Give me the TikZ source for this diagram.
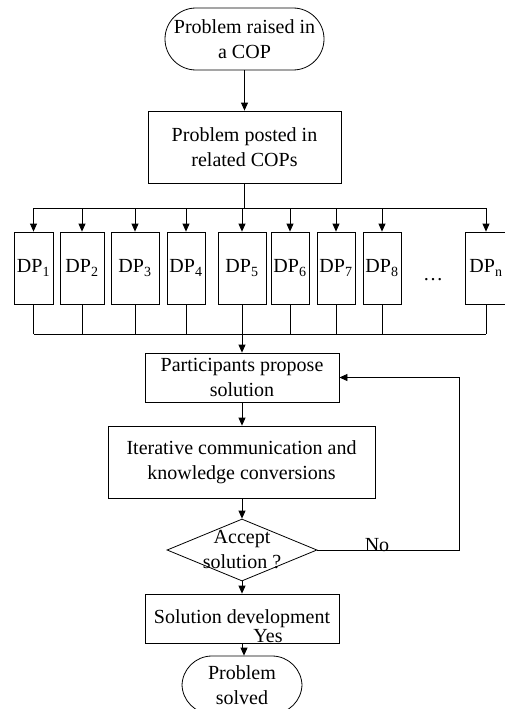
\documentclass[tikz,border=0pt]{standalone}
\usepackage{fontspec}
\setmainfont{Liberation Serif}
\usetikzlibrary{arrows.meta,shapes.geometric}
\begin{document}
\begin{tikzpicture}[x=1pt,y=-1pt,
  every node/.style={font=\fontsize{20}{25}\selectfont, inner sep=0pt, align=center},
  wire/.style={line width=0.8pt},
  arr/.style={line width=0.8pt, -{Triangle[length=8pt,width=7pt]}},
  box/.style={draw, line width=0.8pt, rectangle},
  term/.style={draw, line width=0.8pt, rectangle, rounded corners=#1},
  dpbox/.style={draw, line width=0.8pt, rectangle, minimum height=72pt}
]
\useasboundingbox (0,0) rectangle (504,709);

\node[term=31pt, minimum width=159pt, minimum height=62pt] (start) at (244.5,39) {Problem raised in\\a COP};
\node[box, minimum width=193pt, minimum height=72pt] (posted) at (244.5,147) {Problem posted in\\related COPs};

\node[dpbox, minimum width=39pt] (dp1) at (33.5,268) {DP\textsubscript{1}};
\node[dpbox, minimum width=44pt] (dp2) at (82,268) {DP\textsubscript{2}};
\node[dpbox, minimum width=48pt] (dp3) at (135,268) {DP\textsubscript{3}};
\node[dpbox, minimum width=38pt] (dp4) at (186,268) {DP\textsubscript{4}};
\node[dpbox, minimum width=48pt] (dp5) at (242,268) {DP\textsubscript{5}};
\node[dpbox, minimum width=38pt] (dp6) at (290,268) {DP\textsubscript{6}};
\node[dpbox, minimum width=38pt] (dp7) at (336,268) {DP\textsubscript{7}};
\node[dpbox, minimum width=38pt] (dp8) at (382,268) {DP\textsubscript{8}};
\node[anchor=base] (dots) at (433,280) {…};
\node[dpbox, minimum width=42pt] (dpn) at (486,268) {DP\textsubscript{n}};

\node[box, minimum width=194pt, minimum height=49pt] (part) at (242,377.5) {Participants propose\\solution};
\node[box, minimum width=267pt, minimum height=72pt] (iter) at (241.5,462) {Iterative communication and\\knowledge conversions};
\node[draw, line width=0.8pt, diamond, minimum width=150pt, minimum height=62pt] (dec) at (242,550) {};
\node (dectext) at (242,550) {Accept\\solution ?};
\node[box, minimum width=194pt, minimum height=49pt] (sol) at (242,618.5) {Solution development};
\node[term=30pt, minimum width=120pt, minimum height=58pt] (done) at (242,685) {Problem\\solved};

\node (no) at (377,545) {No};
\node (yes) at (268,636) {Yes};

\coordinate (bus1) at (242,208);
\coordinate (bus2) at (242,334);
\coordinate (back) at (459,550);

\draw[arr] (start.south) -- (posted.north);
\draw[wire] (posted.south) -- (posted.south |- bus1);
\draw[wire] (bus1 -| dp1.north) -- (bus1 -| dpn.north);
\foreach \d in {dp1,dp2,dp3,dp4,dp5,dp6,dp7,dp8,dpn}{
  \draw[arr] (bus1 -| \d.north) -- (\d.north);
  \draw[wire] (\d.south) -- (\d.south |- bus2);
}
\draw[wire] (bus2 -| dp1.south) -- (bus2 -| dpn.south);
\draw[arr] (dp5.south) -- (dp5.south |- part.north);
\draw[arr] (part.south) -- (part.south |- iter.north);
\draw[arr] (iter.south -| dec.north) -- (dec.north);
\draw[arr] (dec.south) -- (sol.north);
\draw[arr] (sol.south) -- ++(0,8) -- ++(2,0) -- (done.north -| 244,0);
\draw[arr] (dec.east) -- (back) -- (back |- part.east) -- (part.east);
\end{tikzpicture}
\end{document}
